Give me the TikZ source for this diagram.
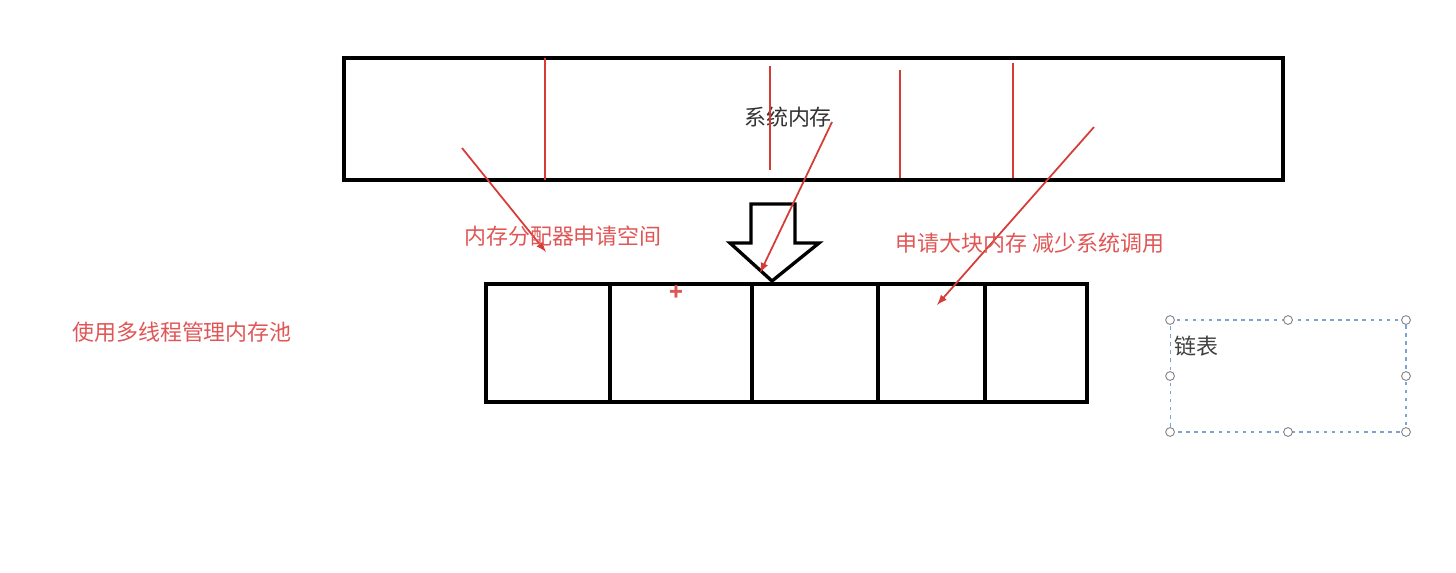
\documentclass[tikz,border=0pt]{standalone}
\usepackage{fontspec}
\setmainfont{Noto Sans CJK SC}
\usepackage{xcolor}
\usepackage{tikz}
\usetikzlibrary{positioning, arrows}

\definecolor{penred}{RGB}{214,60,55}
\definecolor{txtred}{RGB}{224,86,86}
\definecolor{selblue}{RGB}{120,165,215}

\tikzset{
  cell/.style={draw, line width=1.9pt, minimum height=2.36cm, outer sep=0pt, inner sep=0pt},
  divider/.style={penred, line width=1.2pt},
  pointer/.style={penred, line width=1pt, -latex},
  note/.style={txtred, font=\fontsize{12.5}{14}\selectfont, inner sep=0pt},
  handle/.style={circle, draw=gray, fill=white, line width=0.5pt, minimum size=5pt, inner sep=0pt},
}

\begin{document}
\begin{tikzpicture}[x=0.02cm, y=-0.02cm]
			\useasboundingbox (0,0) rectangle (1456,572);
			\node[cell, minimum width=18.78cm, minimum height=2.44cm] (mem) at (813.5,119) {};
			\node[text=black!80, font=\fontsize{12.5}{14}\selectfont, inner sep=0pt] (memlabel) at (788,117) {系统内存};
			\draw[divider] (545,58) -- (545,180);
			\draw[divider] (770,66) -- (770,170);
			\draw[divider] (900,70) -- (900,178);
			\draw[divider] (1013,63) -- (1013,178);
			\node[cell, minimum width=2.48cm] (c1) at (548,343) {};
			\node[cell, minimum width=2.84cm, right=0pt of c1] (c2) {};
			\node[cell, minimum width=2.52cm, right=0pt of c2] (c3) {};
			\node[cell, minimum width=2.14cm, right=0pt of c3] (c4) {};
			\node[cell, minimum width=2.04cm, right=0pt of c4] (c5) {};
			\draw[line width=1.9pt, fill=white] (751,204) -- (795,204) -- (795,243) -- (819,243) -- (772,281) -- (730,243) -- (751,243) -- cycle;
			\coordinate (p1) at (462,148);
			\coordinate (q1) at (546,252);
			\coordinate (p2) at (832,122);
			\coordinate (q2) at (760,273);
			\coordinate (p3) at (1094,127);
			\coordinate (q3) at (937,305);
			\draw[pointer] (p1) -- (q1);
			\draw[pointer] (p2) -- (q2);
			\draw[pointer] (p3) -- (q3);
			\node[note] (alloc) at (563,236) {内存分配器申请空间};
			\node[note] (bulk) at (1030,243) {申请大块内存 减少系统调用};
			\node[note] (threads) at (182,332) {使用多线程管理内存池};
			\node[txtred, font=\fontsize{13}{14}\selectfont\bfseries, inner sep=0pt] (mark) at (676,293) {+};
			\node[draw=selblue, line width=0.6pt, dash pattern=on 2pt off 2.6pt, minimum width=4.72cm, minimum height=2.24cm, outer sep=0pt] (sel) at (1288,376) {};
			\node[text=black!75, font=\fontsize{12.5}{14}\selectfont, inner sep=0pt, anchor=west] (list) at (1174,346) {链表};
			\node[handle] at (sel.north west) {};
			\node[handle] at (sel.north) {};
			\node[handle] at (sel.north east) {};
			\node[handle] at (sel.west) {};
			\node[handle] at (sel.east) {};
			\node[handle] at (sel.south west) {};
			\node[handle] at (sel.south) {};
			\node[handle] at (sel.south east) {};
		\end{tikzpicture}
\end{document}
